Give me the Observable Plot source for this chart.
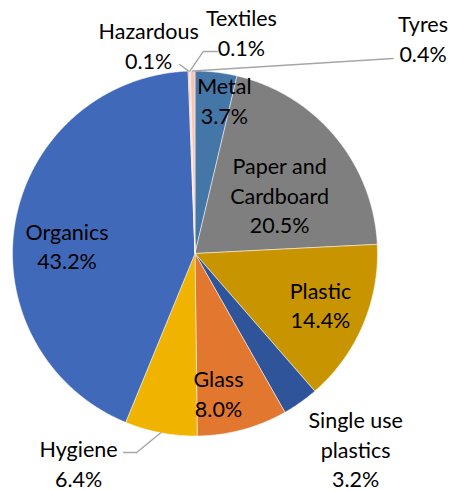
<!DOCTYPE html>
<html>
<head>
<meta charset="utf-8">
<script src="https://cdn.jsdelivr.net/npm/d3@7"></script>
<script src="https://cdn.jsdelivr.net/npm/@observablehq/plot@0.6"></script>
<style>
  html, body { margin: 0; padding: 0; background: #fff; }
  #chart svg { display: block; }
</style>
</head>
<body>
<div id="chart"></div>
<script>
// ---- data ----
const categories = ["Metal", "Paper and Cardboard", "Plastic", "Single use plastics", "Glass", "Hygiene", "Organics", "Hazardous", "Textiles", "Tyres"];
const values = [3.7, 20.5, 14.4, 3.2, 8.0, 6.4, 43.2, 0.1, 0.1, 0.4];
const labelNames = ["Metal", "Paper and\nCardboard", "Plastic", "Single use\nplastics", "Glass", "Hygiene", "Organics", "Hazardous", "Textiles", "Tyres"];

// ---- styling / layout ----
const colors = ["#4576A8", "#7F7F7F", "#C89500", "#2F549A", "#E2772F", "#EFB300", "#4169B9", "#EA9479", "#F3B29C", "#F6C4B3"];
// label placement: angle (deg, clockwise from 12 o'clock) and radius (fraction of pie radius)
const labelAngle = [10.8, 55.1, 111.9, 140.5, 170.4, 209.1, 273.8, 347.5, 11.8, 46.55];
const labelRadius = [0.859, 0.565, 0.741, 1.384, 0.772, 1.311, 0.703, 1.173, 1.243, 1.721];
// leader line bend points, pixel offsets from the label centre (null = no leader)
const leaderOffsets = [null, null, null, null, null, [[45, -10], [58, -10]], null, [[31, 20]], [[-24, 20], [-38, 20]], [[-30, 21]]];
const R = 182.5; // pie radius in px

const rows = categories.map((name, i) => ({name, value: values[i], label: labelNames[i]}));
const arcs = d3.pie().sort(null).value(d => d.value)(rows);

// slice outlines in unit coordinates (y up)
const slicePts = [];
arcs.forEach(a => {
  const name = a.data.name;
  const n = Math.max(2, Math.ceil((a.endAngle - a.startAngle) / (Math.PI / 360)));
  slicePts.push({name, x: 0, y: 0});
  for (let i = 0; i <= n; i++) {
    const t = a.startAngle + (a.endAngle - a.startAngle) * i / n;
    slicePts.push({name, x: Math.sin(t), y: Math.cos(t)});
  }
  slicePts.push({name, x: 0, y: 0});
});

const labelRows = arcs.map((a, i) => {
  const t = labelAngle[i] * Math.PI / 180;
  return {
    name: a.data.name,
    text: a.data.label + "\n" + a.data.value.toFixed(1) + "%",
    x: labelRadius[i] * Math.sin(t),
    y: labelRadius[i] * Math.cos(t)
  };
});

const leaderPts = [];
arcs.forEach((a, i) => {
  if (!leaderOffsets[i]) return;
  const name = a.data.name;
  const L = labelRows[i];
  leaderOffsets[i].forEach(([dx, dy]) => leaderPts.push({name, x: L.x + dx / R, y: L.y - dy / R}));
  const mid = (a.startAngle + a.endAngle) / 2;
  leaderPts.push({name, x: Math.sin(mid), y: Math.cos(mid)});
});

const chart = Plot.plot({
  width: 452,
  height: 491,
  marginLeft: 12,
  marginRight: 75,
  marginTop: 70.5,
  marginBottom: 55.5,
  style: {fontFamily: "Lato, sans-serif", background: "#fff"},
  x: {domain: [-1, 1], axis: null},
  y: {domain: [-1, 1], axis: null},
  color: {domain: categories, range: colors},
  marks: [
    Plot.line(slicePts, {x: "x", y: "y", z: "name", fill: "name", stroke: "white", strokeWidth: 0.5, curve: "linear"}),
    Plot.line(leaderPts, {x: "x", y: "y", z: "name", stroke: "#A6A6A6", strokeWidth: 1.4, curve: "linear"}),
    Plot.text(labelRows, {x: "x", y: "y", text: "text", fontSize: 21.5, lineHeight: 1.37, fill: "#000"})
  ]
});
document.getElementById("chart").appendChild(chart);
</script>
</body>
</html>
